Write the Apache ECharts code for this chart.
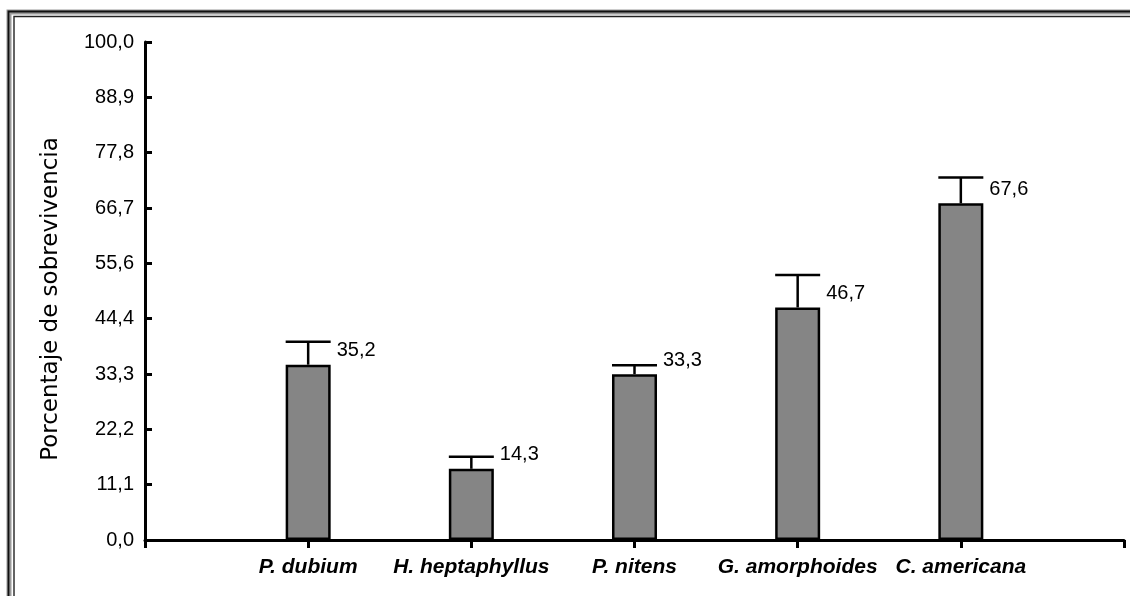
<!DOCTYPE html>
<html>
<head>
<meta charset="utf-8">
<script src="https://cdn.jsdelivr.net/npm/echarts@6/dist/echarts.min.js"></script>
<style>
html,body{margin:0;padding:0;background:#fff;}
#chart{width:1130px;height:596px;}
</style>
</head>
<body>
<div id="chart"></div>
<script>
// ---- data ----
const species = ['P. dubium', 'H. heptaphyllus', 'P. nitens', 'G. amorphoides', 'C. americana'];
const survival = [35.2, 14.3, 33.3, 46.7, 67.6];
const errorTop = [39.8, 16.7, 35.1, 53.2, 72.8];
const yTickLabels = ['0,0', '11,1', '22,2', '33,3', '44,4', '55,6', '66,7', '77,8', '88,9', '100,0'];
const yTitle = 'Porcentaje de sobrevivencia';

// ---- build ----
const cats = [''].concat(species, ['']);
const barData = ['-'].concat(survival, ['-']);
const errData = species.map((s, i) => [i + 1, survival[i], errorTop[i]]);
const step = 100 / 9;
const BAR_W = 45;

const chart = echarts.init(document.getElementById('chart'));
chart.setOption({
  animation: false,
  backgroundColor: '#fff',
  graphic: [
    { type: 'rect', shape: { x: 9, y: 12, width: 1140, height: 620 }, style: { fill: 'none', stroke: '#9a9a9a', lineWidth: 5 }, silent: true, z: -1 },
    { type: 'rect', shape: { x: 8.5, y: 11.5, width: 1140, height: 620 }, style: { fill: 'none', stroke: '#111', lineWidth: 1.8 }, silent: true },
    { type: 'rect', shape: { x: 14, y: 16.5, width: 1140, height: 620 }, style: { fill: 'none', stroke: '#222', lineWidth: 1.4 }, silent: true }
  ],
  grid: { left: 145, right: 6, top: 42, bottom: 56, containLabel: false },
  xAxis: {
    type: 'category',
    data: cats,
    boundaryGap: false,
    axisLine: { lineStyle: { color: '#000', width: 3 } },
    axisTick: { show: true, interval: 0, length: 8, lineStyle: { color: '#000', width: 3 } },
    axisLabel: {
      interval: 0, margin: 17,
      fontFamily: 'Liberation Sans', fontStyle: 'italic', fontWeight: 'bold', fontSize: 21, color: '#000'
    },
    splitLine: { show: false }
  },
  yAxis: {
    type: 'value',
    min: 0, max: 100, interval: step,
    name: yTitle,
    nameLocation: 'middle',
    nameGap: 82,
    nameRotate: 90,
    nameTextStyle: { fontFamily: 'DejaVu Sans', fontSize: 23, color: '#000', padding: [0, 16, 0, 0] },
    axisLine: { show: true, lineStyle: { color: '#000', width: 3 } },
    axisTick: { show: true, inside: true, length: 7, lineStyle: { color: '#000', width: 3 } },
    axisLabel: {
      margin: 11,
      fontFamily: 'Liberation Sans', fontSize: 20, color: '#000',
      formatter: function (v) { return yTickLabels[Math.round(v / step)]; }
    },
    splitLine: { show: false }
  },
  series: [
    {
      type: 'bar',
      data: barData,
      barWidth: BAR_W,
      itemStyle: { color: '#858585', borderColor: '#000', borderWidth: 2.5 },
      label: {
        show: true,
        position: ['100%', 0],
        offset: [6, -14],
        align: 'left',
        verticalAlign: 'middle',
        fontFamily: 'Liberation Sans', fontSize: 20, color: '#000',
        formatter: function (p) { return String(p.value.toFixed(1)).replace('.', ','); }
      },
      z: 2
    },
    {
      type: 'custom',
      data: errData,
      z: 3,
      renderItem: function (params, api) {
        const x = api.value(0);
        const base = api.coord([x, api.value(1)]);
        const top = api.coord([x, api.value(2)]);
        const hw = BAR_W / 2;
        const st = { stroke: '#000', lineWidth: 2.5 };
        return {
          type: 'group',
          children: [
            { type: 'line', shape: { x1: base[0], y1: base[1], x2: top[0], y2: top[1] }, style: st },
            { type: 'line', shape: { x1: top[0] - hw, y1: top[1], x2: top[0] + hw, y2: top[1] }, style: st }
          ]
        };
      }
    }
  ]
});
</script>
</body>
</html>
